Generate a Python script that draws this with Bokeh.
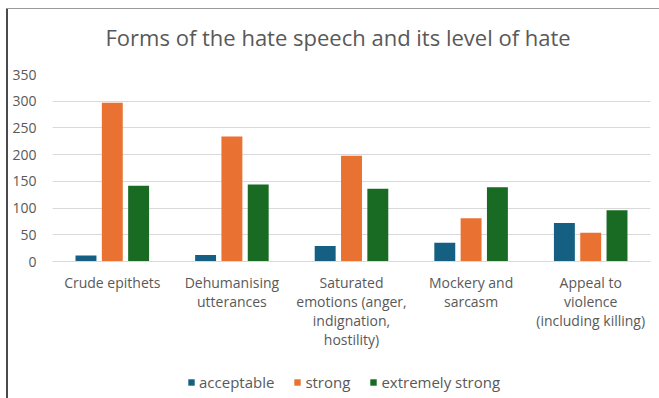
from bokeh.plotting import figure
from bokeh.layouts import column
from bokeh.models import ColumnDataSource, FactorRange, Legend, LegendItem
from bokeh.transform import dodge
from bokeh.embed import file_html
from bokeh.resources import INLINE

# Forms of hate speech and counts per level of hate
categories = [
    "Crude epithets",
    "Dehumanising\nutterances",
    "Saturated\nemotions (anger,\nindignation,\nhostility)",
    "Mockery and\nsarcasm",
    "Appeal to\nviolence\n(including killing)",
]
acceptable = [11, 12, 29, 35, 72]
strong = [297, 234, 198, 81, 54]
extremely_strong = [142, 144, 136, 139, 96]
series_names = ["acceptable", "strong", "extremely strong"]
y_ticks = [0, 50, 100, 150, 200, 250, 300, 350]

colors = ["#156082", "#E97132", "#196B24"]
TEXT = "#595959"
FONT = "Open Sans"
W = 659

src = ColumnDataSource(dict(cat=categories, acc=acceptable, strg=strong, ext=extremely_strong))

p = figure(
    width=W, height=365,
    x_range=FactorRange(*categories), y_range=(0, 350),
    output_backend="svg", toolbar_location=None,
    min_border_left=52, min_border_right=9, min_border_top=73, min_border_bottom=104,
    background_fill_color="white", border_fill_alpha=0,
    title="Forms of the hate speech and its level of hate",
)
# top and left edge lines of the chart area, painted behind the transparent border
p.styles = {
    "background": ("linear-gradient(#9a9a9a, #9a9a9a) 6px 8px / 653px 1px no-repeat, "
                   "linear-gradient(#4a4a4a, #4a4a4a) 6px 8px / 2px 400px no-repeat, white"),
}
p.outline_line_color = None

p.title.align = "left"
p.title.offset = 53
p.title.vertical_align = "top"
p.title.standoff = 42
p.title.text_font = FONT
p.title.text_font_size = "22px"
p.title.text_font_style = "normal"
p.title.text_color = TEXT

bar_w = 0.175
offs = [-0.22, 0.0, 0.22]
fields = ["acc", "strg", "ext"]
for col, off, c in zip(fields, offs, colors):
    p.vbar(x=dodge("cat", off, range=p.x_range), top=col, width=bar_w, source=src,
           fill_color=c, line_color=None)

# axes
p.yaxis.ticker = y_ticks
p.yaxis.axis_line_color = None
p.yaxis.major_tick_line_color = None
p.yaxis.minor_tick_line_color = None
p.yaxis.major_label_text_font = FONT
p.yaxis.major_label_text_font_size = "14px"
p.yaxis.major_label_text_color = TEXT
p.yaxis.major_label_standoff = 10

p.xaxis.axis_line_color = "#d9d9d9"
p.xaxis.major_tick_line_color = None
p.xaxis.minor_tick_line_color = None
p.xaxis.major_label_text_font = FONT
p.xaxis.major_label_text_font_size = "14px"
p.xaxis.major_label_text_line_height = 1.0
p.xaxis.major_label_text_color = TEXT
p.xaxis.major_label_standoff = 5

p.xgrid.grid_line_color = None
p.ygrid.grid_line_color = "#d9d9d9"

# legend strip under the chart; its swatches share the bar styles
lg = figure(
    width=W, height=33, output_backend="svg", toolbar_location=None,
    x_range=(0, 1), y_range=(0, 1),
    x_axis_location=None, y_axis_location=None,
    min_border_left=0, min_border_right=0, min_border_top=0, min_border_bottom=0,
    background_fill_alpha=0, border_fill_alpha=0,
)
lg.styles = {
    "background": "linear-gradient(#4a4a4a, #4a4a4a) 6px 0px / 2px 40px no-repeat, white",
}
lg.grid.visible = False
lg.outline_line_color = None
# swatch renderers sit outside the visible range; only their legend entries show
offscreen = ColumnDataSource(dict(x=[-10], top=[0]))
swatches = [lg.vbar(x="x", top="top", width=0.1, source=offscreen, fill_color=c, line_color=None)
            for c in colors]
legend = Legend(
    items=[LegendItem(label=n, renderers=[r]) for n, r in zip(series_names, swatches)],
    orientation="horizontal", location=(135, 6),
    label_text_font=FONT, label_text_font_size="15px", label_text_color=TEXT,
    glyph_width=8, glyph_height=8, label_standoff=4, spacing=19,
    padding=0, margin=0, border_line_color=None, background_fill_alpha=0,
)
lg.add_layout(legend, "center")

layout = column(p, lg, spacing=0)
open("out.html", "w").write(file_html(layout, INLINE))
